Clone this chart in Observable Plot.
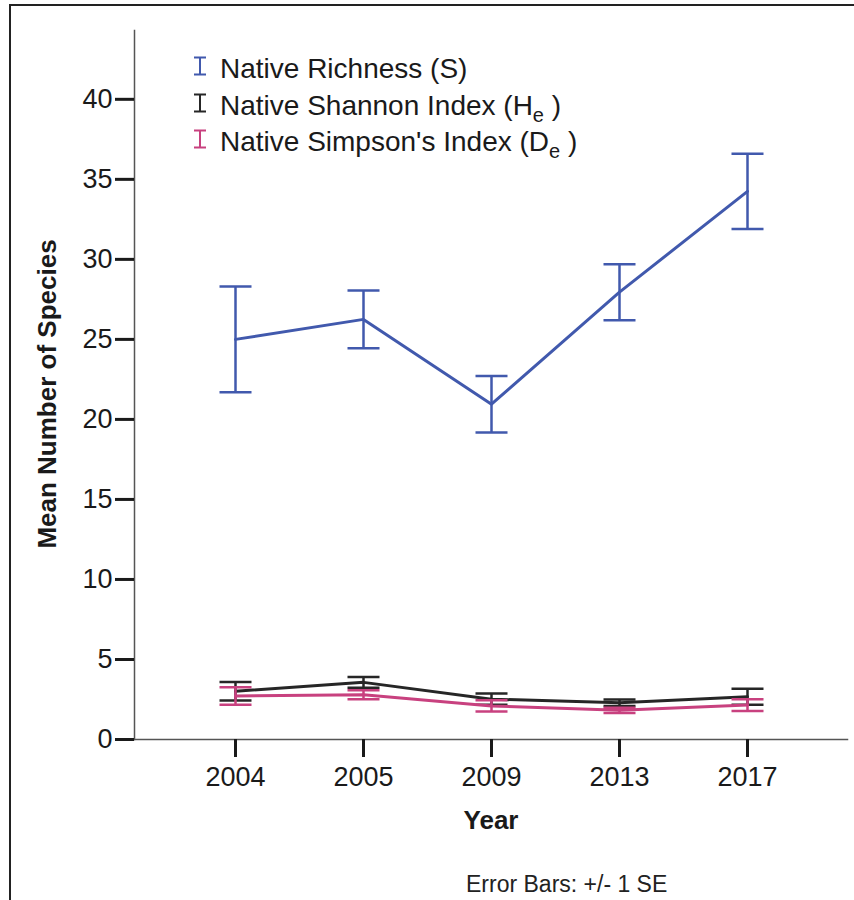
<!DOCTYPE html>
<html>
<head>
<meta charset="utf-8">
<script src="https://cdn.jsdelivr.net/npm/d3@7"></script>
<script src="https://cdn.jsdelivr.net/npm/@observablehq/plot@0.6"></script>
<style>
  body { margin: 0; background: #fff; font-family: "Liberation Sans", Arial, sans-serif; }
  #wrap { position: relative; width: 854px; height: 900px; overflow: hidden; background: #fff; }
  #border { position: absolute; left: 9px; top: 4px; width: 1000px; height: 1000px; border: 2px solid #222; box-sizing: border-box; }
  #chart { position: absolute; left: 0; top: 0; }
  .key-icon { position: absolute; left: 193px; }
  .key-text { position: absolute; left: 220px; font-size: 28px; line-height: 30px; color: #1a1a1a; white-space: nowrap; }
  .key-text sub { font-size: 20px; vertical-align: -7px; line-height: 0; }
  #caption { position: absolute; left: 466px; top: 871px; font-size: 23px; color: #222; white-space: nowrap; }
</style>
</head>
<body>
<div id="wrap">
  <div id="border"></div>
  <div id="chart"></div>
  <div id="legend"></div>
  <div id="caption">Error Bars: +/- 1 SE</div>
</div>
<script>
// Survey years (x categories)
const years = ["2004", "2005", "2009", "2013", "2017"];

// Native species richness: mean and standard error
const richnessMean = [25.0, 26.25, 20.95, 27.95, 34.25];
const richnessSE   = [3.3, 1.8, 1.77, 1.75, 2.35];

// Native Shannon index
const shannonMean = [3.02, 3.57, 2.52, 2.3, 2.67];
const shannonSE   = [0.58, 0.33, 0.35, 0.2, 0.5];

// Native Simpson's index
const simpsonMean = [2.72, 2.8, 2.1, 1.82, 2.15];
const simpsonSE   = [0.55, 0.28, 0.35, 0.16, 0.37];

const yTicks = [0, 5, 10, 15, 20, 25, 30, 35, 40];

const series = [
  {key: "Native Richness (S)", html: "Native Richness (S)", color: "#4159ad", mean: richnessMean, se: richnessSE},
  {key: "Native Shannon Index (He)", html: "Native Shannon Index (H<sub>e</sub> )", color: "#262626", mean: shannonMean, se: shannonSE},
  {key: "Native Simpson's Index (De)", html: "Native Simpson's Index (D<sub>e</sub> )", color: "#c8417f", mean: simpsonMean, se: simpsonSE}
];

// Long table: one row per series and year, with ±1 SE bounds
const table = series.flatMap(s => years.map((year, i) => ({
  series: s.key,
  year,
  mean: s.mean[i],
  lo: s.mean[i] - s.se[i],
  hi: s.mean[i] + s.se[i]
})));

// Horizontal cap drawn at the ends of each error bar
const capSymbol = {draw(ctx) { ctx.moveTo(-16, 0); ctx.lineTo(16, 0); }};

const seriesMarks = series.flatMap(s => {
  const rows = table.filter(d => d.series === s.key);
  return [
    Plot.ruleX(rows, {x: "year", y1: "lo", y2: "hi", stroke: s.color, strokeWidth: 2.5}),
    Plot.dot(rows, {x: "year", y: "hi", symbol: capSymbol, stroke: s.color, strokeWidth: 2.5, fill: "none"}),
    Plot.dot(rows, {x: "year", y: "lo", symbol: capSymbol, stroke: s.color, strokeWidth: 2.5, fill: "none"}),
    Plot.line(rows, {x: "year", y: "mean", stroke: s.color, strokeWidth: 3})
  ];
});

const chart = Plot.plot({
  width: 854,
  height: 860,
  marginLeft: 134,
  marginRight: 7,
  marginTop: 30,
  marginBottom: 121,
  style: {fontFamily: "'Liberation Sans', Arial, sans-serif", color: "#1a1a1a", background: "transparent", overflow: "visible"},
  x: {type: "point", domain: years, padding: 0.77},
  y: {domain: [0, 44.3]},
  marks: [
    Plot.frame({anchor: "left", stroke: "#555", strokeWidth: 1.5}),
    Plot.frame({anchor: "bottom", stroke: "#555", strokeWidth: 1.5}),
    Plot.axisY({ticks: yTicks, tickSize: 19, tickPadding: 3, strokeWidth: 3, fontSize: 27, label: null, tickFormat: d => String(d)}),
    Plot.axisX({tickSize: 18, tickPadding: 9, strokeWidth: 3, fontSize: 27, label: null}),
    Plot.text(["Mean Number of Species"], {frameAnchor: "left", textAnchor: "middle", rotate: -90, dx: -87, dy: 9, fontSize: 26, fontWeight: "bold"}),
    Plot.text(["Year"], {frameAnchor: "bottom", textAnchor: "middle", dy: 89, fontSize: 26, fontWeight: "bold"}),
    ...seriesMarks
  ]
});
document.getElementById("chart").appendChild(chart);

// Legend with small error-bar glyphs
const legend = document.getElementById("legend");
const rowCenters = [66, 103, 139];
series.forEach((s, i) => {
  const c = rowCenters[i];
  const icon = document.createElementNS("http://www.w3.org/2000/svg", "svg");
  icon.setAttribute("class", "key-icon");
  icon.setAttribute("width", 14);
  icon.setAttribute("height", 20);
  icon.style.top = (c - 10) + "px";
  icon.innerHTML = `<path d="M1,1.5H13M7,1.5V18.5M1,18.5H13" stroke="${s.color}" stroke-width="2" fill="none"/>`;
  legend.appendChild(icon);
  const txt = document.createElement("div");
  txt.className = "key-text";
  txt.style.top = (c - 12) + "px";
  txt.innerHTML = s.html;
  legend.appendChild(txt);
});
</script>
</body>
</html>
